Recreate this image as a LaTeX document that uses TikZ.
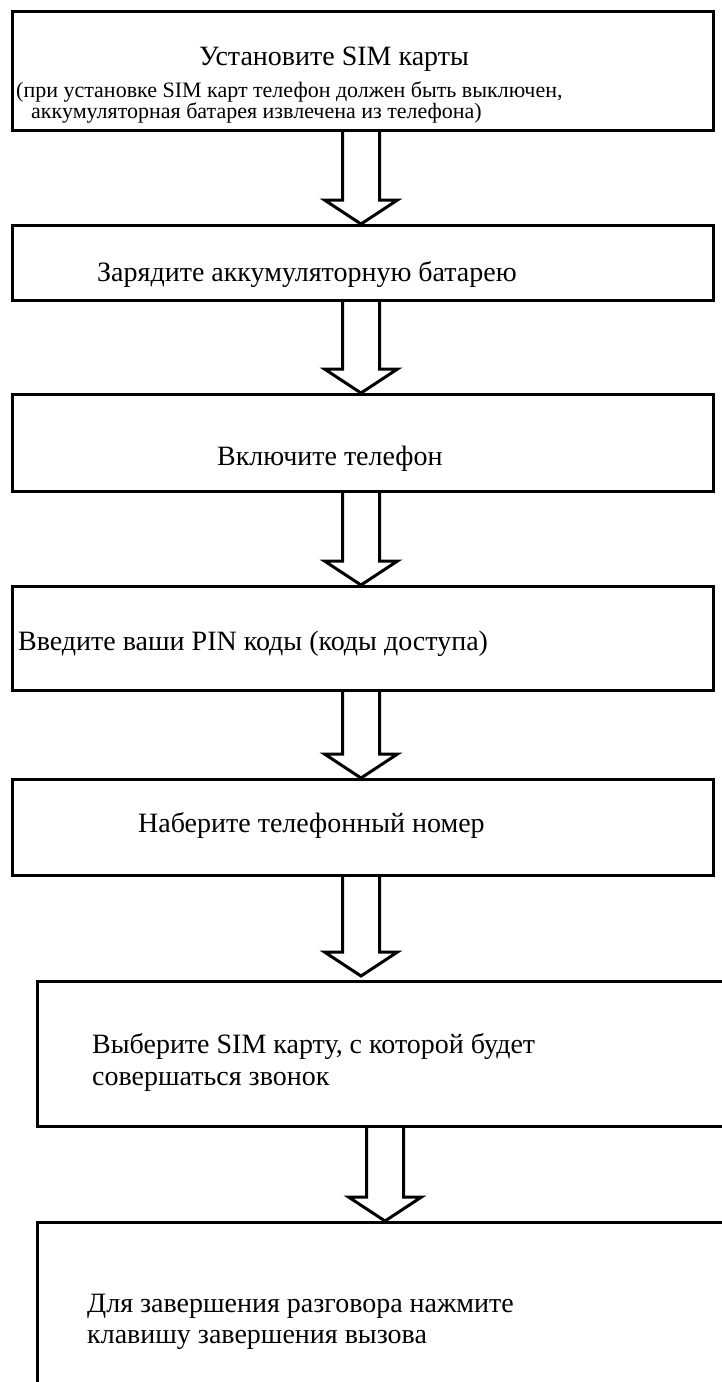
\documentclass[tikz,border=0pt]{standalone}
\usepackage{fontspec}
\setmainfont{Liberation Serif}
\usetikzlibrary{calc}
\newcommand\bigtxt{\fontsize{28}{32}\selectfont}
\newcommand\smalltxt{\fontsize{22}{21}\selectfont}
\begin{document}
\begin{tikzpicture}[x=1pt,y=-1pt,
  box/.style={draw, line width=3pt, rectangle, inner sep=0pt, anchor=north west},
  arr/.style={draw, line width=3pt, line join=miter},
  txt/.style={inner sep=0pt, anchor=base west, font=\bigtxt},
  stxt/.style={inner sep=0pt, anchor=base west, font=\smalltxt}]
\useasboundingbox (0,0) rectangle (722,1382);
\fill[white] (0,0) rectangle (722,1382);
% boxes
\node[box, minimum width=701pt, minimum height=119pt] (b1) at (11,10) {};
\node[box, minimum width=701pt, minimum height=75pt] (b2) at (11,224) {};
\node[box, minimum width=701pt, minimum height=97pt] (b3) at (11,393) {};
\node[box, minimum width=701pt, minimum height=104pt] (b4) at (11,585) {};
\node[box, minimum width=701pt, minimum height=96pt] (b5) at (11,778) {};
\node[box, minimum width=710pt, minimum height=145pt] (b6) at (36,980) {};
\node[box, minimum width=710pt, minimum height=190pt] (b7) at (36,1221) {};
% texts
\node[inner sep=0pt, anchor=base, font=\bigtxt] (t1a) at (334,65) {Установите SIM карты};
\node[stxt] (t1b) at (16,97) {(при установке SIM карт телефон должен быть выключен,};
\node[stxt] (t1c) at (31,118) {аккумуляторная батарея извлечена из телефона)};
\node[txt] (t2) at (97,281) {Зарядите аккумуляторную батарею};
\node[txt] (t3) at (217,465) {Включите телефон};
\node[txt] (t4) at (18,650) {Введите ваши PIN коды (коды доступа)};
\node[txt] (t5) at (138,832) {Наберите телефонный номер};
\node[txt] (t6a) at (92,1053) {Выберите SIM карту, с которой будет};
\node[txt] (t6b) at (92,1085) {совершаться звонок};
\node[txt] (t7a) at (87,1312) {Для завершения разговора нажмите};
\node[txt] (t7b) at (87,1343) {клавишу завершения вызова};
% arrow tips
\coordinate (p1) at (361,224);
\coordinate (p2) at (361,393);
\coordinate (p3) at (361,585);
\coordinate (p4) at (361,778);
\coordinate (p5) at (361,976);
\coordinate (p6) at (385,1221);
\newcommand\blockarrow[3]{%
  \draw[arr] let \p1=(#1.south), \p2=(#2), \p3=(#3) in
    (\x3-18.5pt,\y1) -- (\x3-18.5pt,\y2+24pt) -- (\x3-36.5pt,\y2+24pt) -- (\x3,\y2)
    -- (\x3+36.5pt,\y2+24pt) -- (\x3+18.5pt,\y2+24pt) -- (\x3+18.5pt,\y1);}
\blockarrow{b1}{p1}{p1}
\blockarrow{b2}{p2}{p2}
\blockarrow{b3}{p3}{p3}
\blockarrow{b4}{p4}{p4}
\blockarrow{b5}{p5}{p5}
\blockarrow{b6}{p6}{p6}
\end{tikzpicture}
\end{document}
